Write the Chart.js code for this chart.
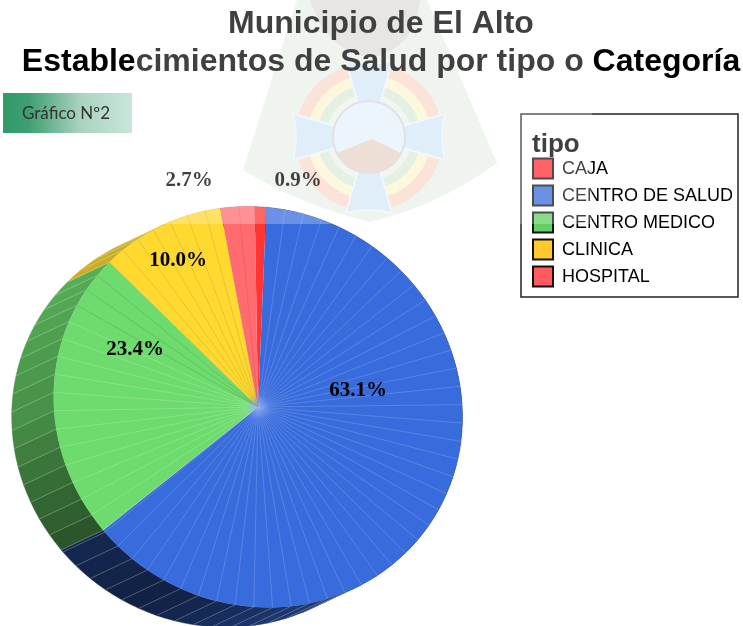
<!DOCTYPE html>
<html>
<head>
<meta charset="utf-8">
<title>Establecimientos de Salud</title>
<script src="https://cdn.jsdelivr.net/npm/chart.js@4"></script>
<style>
  html, body { margin: 0; background: #fff; }
  canvas { display: block; }
</style>
</head>
<body>
<canvas id="grafico" width="743" height="626"></canvas>
<script>
const tipos = ['CAJA', 'CENTRO DE SALUD', 'CENTRO MEDICO', 'CLINICA', 'HOSPITAL'];
const porcentajes = [0.9, 63.1, 23.4, 10.0, 2.7];
const coloresCara = ['#ff3535', '#386cdd', '#6ddb6d', '#ffd930', '#ff6b6f'];
const coloresLeyenda = ['#ff2e32', '#386cdd', '#63cf63', '#ffc92e', '#ff5a5e'];
const coloresLinea = ['rgba(255,255,255,0)', 'rgba(255,255,255,0.32)', 'rgba(255,255,255,0.38)', 'rgba(90,90,60,0.35)', 'rgba(90,60,60,0.3)'];

// where each percent sits in the picture
const posEtiquetas = [[298, 181], [358, 391], [135, 350], [178, 261], [189, 181]];
// shade of the pie's side by clockwise angle from the top
const sombras = [[90, 0.5], [170, 0.5], [205, 0.3], [228, 0.36], [250, 0.5], [270, 0.66], [315, 0.8], [360, 0.8]];

const lado = { x: -42, y: 21 };
const paso = 5.26 * Math.PI / 180; // the pie is faceted, one ray every ~5 degrees
const centro = { x: 258, y: 407 };

// the source pie is tilted: a slightly skewed circle
function inclinar(ctx) {
  ctx.translate(centro.x, centro.y);
  ctx.transform(1.00975, 0.0249, 0.0249, 0.99025, 0, 0);
  ctx.translate(-centro.x, -centro.y);
}

function sombra(grados) {
  for (let i = 1; i < sombras.length; i++) {
    if (grados <= sombras[i][0]) {
      const a = sombras[i - 1], b = sombras[i];
      return a[1] + (b[1] - a[1]) * (grados - a[0]) / (b[0] - a[0]);
    }
  }
  return sombras[0][1];
}

function oscurecer(hex, f) {
  const r = parseInt(hex.slice(1, 3), 16), g = parseInt(hex.slice(3, 5), 16), b = parseInt(hex.slice(5, 7), 16);
  return `rgb(${Math.round(r * f)},${Math.round(g * f)},${Math.round(b * f)})`;
}

// calls fn for every facet of a slice
function facetas(arc, fn) {
  const p = arc.getProps(['x', 'y', 'startAngle', 'endAngle', 'outerRadius'], true);
  let k = 0;
  for (let a = p.startAngle; a < p.endAngle - 0.005; a += paso) {
    fn(p, a, Math.min(a + paso, p.endAngle), k++);
  }
}

const acomodar = {
  id: 'acomodar',
  afterLayout(chart) {
    chart.chartArea = { left: 55.6, right: 460.4, top: 204.6, bottom: 609.4, width: 404.8, height: 404.8 };
    chart.titleBlock.left = 19;
    chart.titleBlock.right = 743;
    chart.titleBlock.top = 6;
    chart.legend.left = 526;
    chart.legend.right = 738;
    chart.legend.top = 132;
    // legend title starts a little further in than the box edge
    const dibujarTitulo = chart.legend.drawTitle;
    chart.legend.drawTitle = function () {
      chart.ctx.save();
      chart.ctx.translate(6, 0);
      dibujarTitulo.call(this);
      chart.ctx.restore();
    };
  }
};

const pastel3d = {
  id: 'pastel3d',
  beforeDatasetsDraw(chart) {
    const ctx = chart.ctx;
    // legend frame
    ctx.strokeStyle = '#222';
    ctx.lineWidth = 1.5;
    ctx.strokeRect(521, 114, 217, 183);

    ctx.save();
    inclinar(ctx);
    chart.getDatasetMeta(0).data.forEach((arc, i) => {
      facetas(arc, (p, a0, a1) => {
        const grados = (((a0 + a1) / 2 + Math.PI / 2) * 180 / Math.PI + 360) % 360;
        const c = oscurecer(coloresCara[i], sombra(grados));
        ctx.beginPath();
        ctx.arc(p.x, p.y, p.outerRadius, a0, a1);
        ctx.arc(p.x + lado.x, p.y + lado.y, p.outerRadius, a1, a0, true);
        ctx.closePath();
        ctx.fillStyle = c;
        ctx.strokeStyle = c;
        ctx.lineWidth = 0.5;
        ctx.fill();
        ctx.stroke();
      });
    });
    chart.getDatasetMeta(0).data.forEach((arc) => {
      facetas(arc, (p, a0) => {
        const ex = p.x + Math.cos(a0) * p.outerRadius;
        const ey = p.y + Math.sin(a0) * p.outerRadius;
        ctx.beginPath();
        ctx.moveTo(ex, ey);
        ctx.lineTo(ex + lado.x, ey + lado.y);
        ctx.strokeStyle = 'rgba(255,255,255,0.35)';
        ctx.lineWidth = 0.6;
        ctx.stroke();
      });
    });
    // stays applied for the pie itself, restored after the datasets
  },
  afterDatasetsDraw(chart) {
    const ctx = chart.ctx;
    chart.getDatasetMeta(0).data.forEach((arc, i) => {
      const total = Math.round((arc.endAngle - arc.startAngle) / paso);
      facetas(arc, (p, a0, a1, k) => {
        if (k === 0 && i < 2) return;
        ctx.beginPath();
        ctx.moveTo(p.x, p.y);
        ctx.lineTo(p.x + Math.cos(a0) * p.outerRadius, p.y + Math.sin(a0) * p.outerRadius);
        // the last green rays next to the yellow come out grey
        ctx.strokeStyle = (i === 2 && k > total - 4) ? 'rgba(80,90,60,0.4)' : coloresLinea[i];
        ctx.lineWidth = 0.5;
        ctx.stroke();
      });
    });
    // rays pile up into a pale spot in the middle
    const g = ctx.createRadialGradient(centro.x, centro.y, 0, centro.x, centro.y, 13);
    g.addColorStop(0, 'rgba(130,160,235,0.8)');
    g.addColorStop(1, 'rgba(130,160,235,0)');
    ctx.fillStyle = g;
    ctx.beginPath();
    ctx.arc(centro.x, centro.y, 13, 0, Math.PI * 2);
    ctx.fill();
    ctx.restore();

    ctx.save();
    ctx.font = 'bold 21px "Liberation Serif"';
    ctx.fillStyle = '#000';
    ctx.textAlign = 'center';
    ctx.textBaseline = 'middle';
    porcentajes.forEach((v, i) => ctx.fillText(v.toFixed(1) + '%', posEtiquetas[i][0], posEtiquetas[i][1]));
    ctx.restore();
  }
};

// coat of arms watermark, painted apart so it can be multiplied under the veil
function pintarEscudo() {
  const hoja = document.createElement('canvas');
  hoja.width = 743;
  hoja.height = 626;
  const c = hoja.getContext('2d');
  const cx = 369, cy = 137;
  c.fillStyle = '#fff';
  c.fillRect(0, 0, 743, 626);

  c.fillStyle = 'rgb(234,241,234)';
  c.beginPath();
  c.moveTo(297, 0);
  c.lineTo(427, 0);
  c.lineTo(497, 163);
  c.quadraticCurveTo(440, 205, 370, 222);
  c.quadraticCurveTo(300, 205, 243, 170);
  c.closePath();
  c.fill();

  c.fillStyle = 'rgb(225,222,218)';
  c.beginPath();
  c.moveTo(310, 0);
  c.lineTo(420, 0);
  c.quadraticCurveTo(415, 50, 370, 58);
  c.quadraticCurveTo(325, 50, 310, 0);
  c.fill();

  [[74, 'rgb(250,218,206)'], [62, 'rgb(250,246,210)'], [52, 'rgb(220,235,220)'], [43, 'rgb(236,243,236)']].forEach((a) => {
    c.beginPath();
    c.arc(cx, cy, a[0], 0, Math.PI * 2);
    c.fillStyle = a[1];
    c.fill();
  });

  c.fillStyle = 'rgb(212,232,247)';
  c.strokeStyle = 'rgb(238,244,250)';
  c.lineWidth = 2;
  for (let k = 0; k < 4; k++) {
    c.save();
    c.translate(cx, cy);
    c.rotate(k * Math.PI / 2);
    c.beginPath();
    c.moveTo(-10, -30);
    c.lineTo(-23, -76);
    c.quadraticCurveTo(0, -70, 23, -76);
    c.lineTo(10, -30);
    c.closePath();
    c.fill();
    c.stroke();
    c.restore();
  }

  c.beginPath();
  c.arc(cx, cy, 36, 0, Math.PI * 2);
  c.fillStyle = 'rgb(230,242,250)';
  c.fill();
  c.strokeStyle = 'rgb(215,215,222)';
  c.stroke();
  c.beginPath();
  c.moveTo(cx - 32, cy + 16);
  c.lineTo(cx + 3, cy + 2);
  c.lineTo(cx + 32, cy + 16);
  c.arc(cx, cy, 36, 0.46, Math.PI - 0.46);
  c.closePath();
  c.fillStyle = 'rgb(232,212,200)';
  c.fill();
  return hoja;
}

const escudo = {
  id: 'escudo',
  afterDraw(chart) {
    const ctx = chart.ctx;
    ctx.save();
    ctx.beginPath();
    ctx.rect(135, 0, 457, 224);
    ctx.clip();
    ctx.globalCompositeOperation = 'multiply';
    ctx.drawImage(pintarEscudo(), 0, 0);
    ctx.globalCompositeOperation = 'source-over';
    ctx.fillStyle = 'rgba(255,255,255,0.25)';
    ctx.fillRect(135, 0, 457, 224);
    ctx.restore();
  }
};

const rotulo = {
  id: 'rotulo',
  beforeDraw(chart) {
    const ctx = chart.ctx;
    const g = ctx.createLinearGradient(3, 0, 132, 0);
    g.addColorStop(0, '#2f9a68');
    g.addColorStop(0.2, '#3f9f72');
    g.addColorStop(0.6, '#a9d3bf');
    g.addColorStop(1, '#c9e6d9');
    ctx.save();
    ctx.fillStyle = g;
    ctx.fillRect(3, 93, 129, 40);
    ctx.fillStyle = '#333';
    ctx.font = '17px Lato';
    ctx.textBaseline = 'middle';
    ctx.fillText('Gráfico Nº2', 22, 114);
    ctx.restore();
  }
};

new Chart(document.getElementById('grafico').getContext('2d'), {
  type: 'pie',
  data: {
    labels: tipos,
    datasets: [{
      data: porcentajes,
      backgroundColor: coloresCara,
      borderWidth: 0
    }]
  },
  options: {
    responsive: false,
    animation: false,
    events: [],
    rotation: 0.5,
    plugins: {
      tooltip: { enabled: false },
      title: {
        display: true,
        text: ['Municipio de El Alto', 'Establecimientos de Salud por tipo o Categoría'],
        color: '#000',
        font: { family: '"Liberation Sans"', size: 32, weight: 'bold', lineHeight: 1.16 },
        padding: 0
      },
      legend: {
        position: 'right',
        align: 'start',
        title: {
          display: true,
          text: 'tipo',
          position: 'start',
          color: '#000',
          font: { family: '"Liberation Sans"', size: 26, weight: 'bold' },
          padding: { top: 0, bottom: -11.6 }
        },
        labels: {
          boxWidth: 20,
          boxHeight: 20,
          padding: 7,
          font: { family: '"Liberation Sans"', size: 18 },
          generateLabels: () => tipos.map((t, i) => ({
            text: t,
            fillStyle: coloresLeyenda[i],
            strokeStyle: '#111',
            lineWidth: 2,
            fontColor: '#000',
            hidden: false,
            index: i
          }))
        }
      }
    }
  },
  plugins: [acomodar, pastel3d, escudo, rotulo]
});
</script>
</body>
</html>
